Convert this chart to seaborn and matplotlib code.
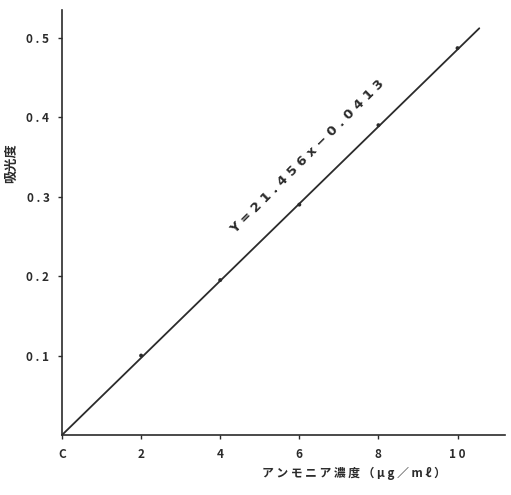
import matplotlib
matplotlib.use("Agg")
import matplotlib.pyplot as plt
import seaborn as sns
import pandas as pd

# calibration points
conc = [2, 4, 6, 8, 10]
absorbance = [0.100, 0.195, 0.290, 0.390, 0.487]

# fitted line, drawn through the origin
line_x = [0, 10.55]
line_y = [0, 0.512]

x_ticks = [0, 2, 4, 6, 8, 10]
x_ticklabels = ["C", "2", "4", "6", "8", "1 0"]
y_ticks = [0.1, 0.2, 0.3, 0.4, 0.5]
y_ticklabels = ["0 . 1", "0 . 2", "0 . 3", "0 . 4", "0 . 5"]

equation = "Y = 2 1 . 4 5 6 x − 0 . 0 4 1 3"
x_label = "ア ン モ ニ ア 濃 度 （ μ g ／ m ℓ ）"
y_label = "吸光度"

sns.set_theme(style="ticks")
plt.rcParams["font.family"] = ["Noto Sans CJK JP", "DejaVu Sans"]

ink = "#2b2b2b"

fig = plt.figure(figsize=(5.11, 4.95), dpi=100)
ax = fig.add_axes([62 / 511, 60 / 495, 443 / 511, 425 / 495])

pts = pd.DataFrame({"conc": conc, "abs": absorbance})
fit = pd.DataFrame({"conc": line_x, "abs": line_y})

sns.lineplot(data=fit, x="conc", y="abs", ax=ax, color=ink, linewidth=1.3)
sns.scatterplot(data=pts, x="conc", y="abs", ax=ax, color=ink, s=8,
                edgecolor="none", zorder=3)

ax.set_xlim(0, 11.2)
ax.set_ylim(0, 0.535)
ax.set_xticks(x_ticks)
ax.set_xticklabels(x_ticklabels)
ax.set_yticks(y_ticks)
ax.set_yticklabels(y_ticklabels)
ax.tick_params(axis="both", direction="out", length=3, width=1, colors=ink,
               labelsize=8.5, pad=6)
for lbl in ax.get_xticklabels() + ax.get_yticklabels():
    lbl.set_fontweight("bold")

sns.despine(ax=ax)
for side in ["left", "bottom"]:
    ax.spines[side].set_color(ink)
    ax.spines[side].set_linewidth(1.2)

ax.set_xlabel(x_label, fontsize=8.5, fontweight="bold", color=ink)
ax.xaxis.set_label_coords(0.66, -0.075)
ax.set_ylabel(y_label, fontsize=9.5, fontweight="bold", color=ink)
ax.yaxis.set_label_coords(-0.1, 0.64)

ax.text(6.2, 0.35, equation, rotation=45, rotation_mode="anchor",
        ha="center", va="center", fontsize=9.5, fontweight="bold", color=ink,
        family=["DejaVu Sans"])

fig.savefig("out.png", dpi=100, facecolor="white")
